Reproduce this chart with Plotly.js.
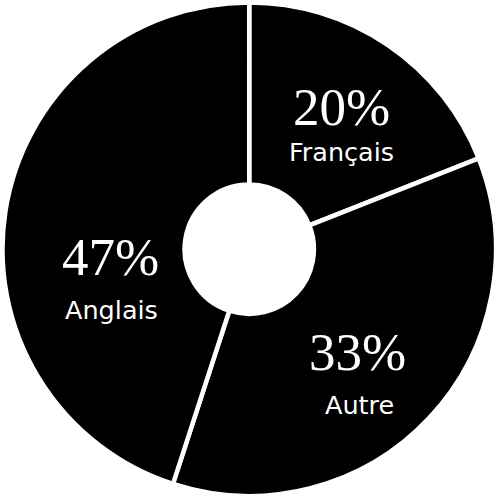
<!DOCTYPE html>
<html>
<head>
<meta charset="utf-8">
<script src="https://cdn.plot.ly/plotly-3.0.1.min.js"></script>
<style>html,body{margin:0;padding:0;background:#fff;}#chart{width:496px;height:498px;}</style>
</head>
<body>
<div id="chart"></div>
<script>
// Slice categories, slice sizes (as drawn) and the printed percentage labels
const categories = ['Français', 'Autre', 'Anglais'];
const sliceValues = [19, 36, 45];
const percentLabels = ['20%', '33%', '47%'];

// Layout: where each slice's label block sits (pixel centres in the 496x498 page)
const W = 496, H = 498;
const labelPlacement = [
  {pctX: 341, pctY: 106.7, catX: 341.7, catY: 152.2},
  {pctX: 357, pctY: 351.7, catX: 359.7, catY: 404.5},
  {pctX: 110, pctY: 257.4, catX: 111, catY: 310.2}
];

const trace = {
  type: 'pie',
  labels: categories,
  values: sliceValues,
  sort: false,
  direction: 'clockwise',
  rotation: 0,
  hole: 0.262,
  domain: {x: [0.005, 1], y: [0.0041, 0.9951]},
  marker: {colors: ['#000000', '#000000', '#000000'], line: {color: '#ffffff', width: 4.5}},
  textinfo: 'none',
  hoverinfo: 'none',
  showlegend: false
};

const annotations = [];
categories.forEach((cat, i) => {
  const p = labelPlacement[i];
  annotations.push({
    xref: 'paper', yref: 'paper', x: p.pctX / W, y: 1 - p.pctY / H,
    xanchor: 'center', yanchor: 'middle', showarrow: false,
    text: percentLabels[i],
    font: {family: 'Liberation Serif, Times New Roman, serif', size: 53, color: '#ffffff'}
  });
  annotations.push({
    xref: 'paper', yref: 'paper', x: p.catX / W, y: 1 - p.catY / H,
    xanchor: 'center', yanchor: 'middle', showarrow: false,
    text: cat,
    font: {family: 'DejaVu Sans, Liberation Sans, sans-serif', size: 25.5, color: '#ffffff'}
  });
});

Plotly.newPlot('chart', [trace], {
  width: W, height: H,
  margin: {l: 0, r: 0, t: 0, b: 0},
  paper_bgcolor: '#ffffff',
  showlegend: false,
  annotations: annotations
}, {displayModeBar: false, staticPlot: true});
</script>
</body>
</html>
